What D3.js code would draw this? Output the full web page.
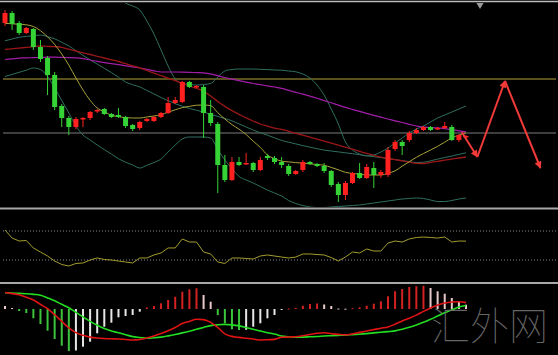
<!DOCTYPE html>
<html><head><meta charset="utf-8">
<script src="https://cdn.jsdelivr.net/npm/d3@7"></script>
<style>html,body{margin:0;padding:0;background:#000;}svg{display:block}</style>
</head><body>
<svg id="c" width="558" height="355"></svg>
<script>
// ---- candles (arbitrary price units) ----
const opens  = [185,195,185,175,179,161,150,133,102,90,81,88.5,90,96.5,99,94,93,91,83,80,87,87,91,95,105,106,126,121,121,95,84,43,28,46,44,45,38,52,50,46,42,34,38,46,44,42,37,24,13,25,35,30,40,33,33,59,66,68,75,78,81,79,80,81,68,71];
const highs  = [198,197,187,181,180,168,152,136,104,92,91,91,97,99,100,95,100,92,84,87,90,92,96,111,111,127,127,123,123,108,86,53,51,51,55,46,51,54,52,51,44,38,48,47,45,45,38,26,27,36,45,44,46,38,61,68,68,77,80,82,82,81,86,83,74,73];
const lows   = [182,178,173,174,158,146,113,98,81,73,79,81,88,95,93,90,90,80,77,78,86,86,90,94,104,105,120,120,70,82,15,26,27,42,43,36,37,48,44,40,32,33,36,43,41,35,21,6,8,24,29,29,20,30,31,57,53,66,74,77,77,78,79,67,66,70];
const closes = [195,184,175,180,161,149,133,101,90,81,89,90,96,98,94,91,91,82,79,86,89,91,95,105,108,126,121,122,95,85,43,28,46,43,45,38,48,50,46,43,34,37,46,44,42,37,23,13,25,35,30,41,33,36,58,66,62,75,78,81,78,80,82,68,73,72];
// ---- overlays ----
const maFast   = [184.7,184.2,183.7,183.2,181.5,177.3,171.2,163.6,154,142.8,130,118,107.7,100,96.2,92.8,91.4,90.3,90,90,91,92,93.3,95.8,98.2,100.4,101.6,102.8,103,102.4,95.3,89,83.4,78.8,73.5,66.8,60.6,53,49.4,46.8,46.1,45.4,44.8,44.1,43.5,42.7,40.6,38.2,35.7,34.5,33.8,33,33,33,34.8,37.1,41.8,46.3,50.7,54.5,58,61.7,65.8,70.2,72.8,75.2];
const maRed    = [158.5,159.2,159.9,160.6,161.3,162,161.6,161.3,160.6,158.8,157,155.2,153.5,151.7,150,148.2,146.5,144.3,142.2,140.1,137.5,134.9,132.4,129.8,127.3,124.7,122,119.5,116.8,112,106.6,101.6,97.4,93.7,90.1,87,84,81.9,79.8,78.6,76.7,74.7,72.8,70.8,68.9,66.9,64.9,62.8,60.8,58.8,56.7,54.6,52.7,50.9,49.6,48.4,47.1,45.9,44.7,44.5,45.6,46.7,47.8,48.9,50,51];
const maPurple = [148.5,149.2,149.9,150.1,150.4,150.6,150.8,150.8,150.6,150.4,150.1,149.4,148,146.6,145.4,144.3,143.3,142.2,141.1,140,138.6,137.2,136,136,136,135.9,135.7,135.4,135.1,134.1,132.3,130.5,128.9,127.4,125.9,124.5,123.3,122.2,121,119.6,117.7,115.7,113.8,111.8,109.7,107.4,105.2,102.9,100.6,98.6,96.6,94.7,92.7,90.8,89,87.2,85.5,83.7,82,80.8,80.5,80.1,79.3,78.3,77.2,76.1];
const bbMid    = [167.2,169,170.7,171.6,172.3,172.9,171.3,169.2,165.7,162.1,157.3,152.6,148.2,143.9,139.7,135.4,130.8,126,123.3,121.1,117.6,114.1,110.5,107.3,104.3,101.8,99.5,97.8,95.9,93.7,91.6,89.5,87.2,84.1,81,77.9,75.3,72.8,70.2,67.6,65.8,64.1,62.4,60.8,59.3,57.9,57,56.1,55.2,54.3,53.3,52.3,51.3,50.4,49.4,48.4,47.4,46.4,45.4,45.7,47.2,48.9,50.5,52,53.6,55.2];
const bbUpper  = [207,209,211,213,215,218,222,226,230,234,236,236,234,230,224,218,212,205,202,198,187,174,158,142,129,124.5,123.5,123,123.5,124.5,131,137,138.5,139,139,139,138.7,138.4,138,137.8,137,136.2,134,130,123,113,99,84,66,58,54,52,53,56,60,65,70,75,79,82,86,90,93,96,99,102];
const bbLower  = [131.5,133.6,135.7,137.8,140,138.5,131.5,120,107.5,95,82,73,68,63,58.4,54,49.3,45.8,43,40,42.7,45.5,49,56,63,69,71,71,71,70,58.5,48,39.5,31.5,28,25,21.5,18,15,12,7.5,4.5,2.5,1,0.5,0.5,1,1.5,2,2.5,3,4,5,6,7,8,9,9.5,10,9.5,8,6.5,6.5,7.5,9,10];
const levels   = [129, 75];
const arrowPts = [[64.4,76],[66.6,51],[70.5,127],[75.5,40]];
// ---- RSI ----
const rsi = [71.4,60.3,56.2,56.9,46.6,41,35.5,28.6,23.8,21.7,25.2,25.9,30,32.8,30.7,30,28.6,27.2,25.9,32.8,32.8,36.9,39.7,46.6,46.6,59,54.8,54.8,41,38.3,27.2,25.2,32.8,32.8,32.1,31.4,35.5,36.9,35.5,34.1,32.8,34.1,38.3,38.3,37.6,36.9,33.4,28.6,34.1,41,39.7,45.2,42.4,42.4,53.4,56.2,54.8,59,61,61.7,61,60.3,61.7,54.8,56.2,56];
const rsiLevels = [30, 70];
// ---- MACD ----
const macdLine   = [16.5,15.4,14.2,11.7,9,4.6,0.3,-5.7,-12.4,-18.9,-23.6,-26.3,-28.1,-29,-29.5,-29.8,-30,-30.5,-31,-30.5,-29,-27,-24.5,-21.8,-18.5,-14.6,-12.4,-10.2,-10.6,-13.4,-18.5,-24.9,-27.4,-28.4,-29.2,-30,-31,-30.7,-30.4,-28.3,-28,-27.7,-26.7,-25.5,-24.2,-23.8,-24.7,-25.4,-25.9,-24.9,-23.4,-22,-20.6,-19.2,-18,-15.2,-12,-9.2,-6.1,-2.4,1,4.1,6,7,7.3,6.4];
const signalLine = [16.2,16,15.7,15.2,14.6,13.8,11.1,8.2,4.7,1.2,-3.4,-7.9,-12.4,-16.3,-19.5,-22,-23.8,-25.7,-27.6,-28.5,-29.3,-28.8,-28.1,-26.9,-25.5,-23.9,-22.2,-20.3,-18.4,-16.6,-15.8,-15.4,-15.9,-16.9,-18.5,-20.3,-22,-23.7,-25,-27,-27.8,-28.2,-28.1,-27.8,-27.5,-27,-26.7,-26.4,-26.1,-25.6,-25.2,-24.6,-23.9,-23.2,-22.6,-21.9,-20.2,-18.2,-15.9,-13.3,-10.3,-7,-3.8,-0.9,1.9,3.5];
const macdHist   = [3,1,-2,-4,-9.3,-15,-21.7,-30,-36.7,-42,-41.5,-37.7,-32.7,-24.3,-17.7,-13.7,-8.3,-7,-6,-2.7,1.5,3,5.7,9,12.3,17.3,19.7,20.7,14,7.3,-6,-14.3,-20.3,-21,-20.8,-17.7,-14.3,-9.3,-6,-1,0.5,1,3.3,5,5.5,4.5,3,0.5,0.3,0.8,1.7,3.3,5.3,7.7,12.7,17.7,20,22,22.7,23.2,21,17.7,15.3,11,7.7,4.3];
const watermark = "汇外网";

const W = 558, H = 355;
const svg = d3.select('#c');
svg.append('rect').attr('width', W).attr('height', H).attr('fill', '#000');

const n = closes.length;
const idx = d3.range(n);
const x = d3.scaleLinear().domain([0, 65]).range([5, 466]);
const yMain = d3.scaleLinear().domain([0, 205]).range([208, 3]);
const yRsi = d3.scaleLinear().domain([0, 100]).range([281.75, 209.25]);
const yMacd = d3.scaleLinear().domain([-46, 26]).range([355, 283]);

const defs = svg.append('defs');
defs.append('clipPath').attr('id', 'clipMain').append('rect').attr('x', 2).attr('y', 3).attr('width', 554).attr('height', 204);
defs.append('clipPath').attr('id', 'clipMacd').append('rect').attr('x', 2).attr('y', 284).attr('width', 554).attr('height', 71);
defs.append('marker').attr('id', 'ah').attr('viewBox', '0 0 10 10').attr('refX', 9).attr('refY', 5)
  .attr('markerWidth', 4.2).attr('markerHeight', 3.6).attr('orient', 'auto').attr('markerUnits', 'strokeWidth')
  .append('path').attr('d', 'M0,0 L10,5 L0,10 Z').attr('fill', '#f23a3a');

// frame lines
svg.append('line').attr('x1', 0).attr('x2', W).attr('y1', 1.5).attr('y2', 1.5).attr('stroke', '#bdbdbd').attr('stroke-width', 1.5);
[208.5, 283].forEach(yy => svg.append('line').attr('x1', 0).attr('x2', W).attr('y1', yy).attr('y2', yy).attr('stroke', '#a8a8a8').attr('stroke-width', 2));

const main = svg.append('g').attr('clip-path', 'url(#clipMain)');

// level lines
const levelColors = ['#b3a23a', '#7c7c7c'];
levels.forEach((lv, k) => main.append('line').attr('x1', 3).attr('x2', 556)
  .attr('y1', yMain(lv)).attr('y2', yMain(lv)).attr('stroke', levelColors[k]).attr('stroke-width', 1));

const lineMain = arr => d3.line().x((d, i) => x(i)).y(d => yMain(d)).curve(d3.curveMonotoneX)(arr);
const overlays = [
  [bbUpper, '#2f6f60', 1], [bbLower, '#2f6f60', 1], [bbMid, '#2f6f60', 1],
  [maPurple, '#a21ea8', 1.2], [maRed, '#9a1717', 1.3], [maFast, '#a8a23a', 1]
];
overlays.forEach(([arr, col, w]) => main.append('path').attr('d', lineMain(arr))
  .attr('fill', 'none').attr('stroke', col).attr('stroke-width', w));

// candles
const upCol = '#ff2020', dnCol = '#35d335';
const cg = main.append('g');
idx.forEach(i => {
  const up = closes[i] >= opens[i];
  const col = up ? upCol : dnCol;
  cg.append('line').attr('x1', x(i)).attr('x2', x(i)).attr('y1', yMain(highs[i])).attr('y2', yMain(lows[i]))
    .attr('stroke', col).attr('stroke-width', 1);
  const top = yMain(Math.max(opens[i], closes[i])), bot = yMain(Math.min(opens[i], closes[i]));
  cg.append('rect').attr('x', x(i) - 2.5).attr('width', 5).attr('y', top).attr('height', Math.max(1.5, bot - top)).attr('fill', col);
});

// arrows
for (let k = 0; k < arrowPts.length - 1; k++) {
  const a = arrowPts[k], b = arrowPts[k + 1];
  main.append('line').attr('x1', x(a[0])).attr('y1', yMain(a[1])).attr('x2', x(b[0])).attr('y2', yMain(b[1]))
    .attr('stroke', '#f23a3a').attr('stroke-width', 2).attr('marker-end', 'url(#ah)');
}

// top marker triangle
svg.append('path').attr('d', d3.symbol().type(d3.symbolTriangle).size(22)()).attr('fill', '#9a9a9a')
  .attr('transform', 'translate(480,5) rotate(180)');

// RSI
rsiLevels.forEach(l => svg.append('line').attr('x1', 3).attr('x2', 556).attr('y1', yRsi(l)).attr('y2', yRsi(l))
  .attr('stroke', '#8a8a8a').attr('stroke-width', 1).attr('stroke-dasharray', '1,2'));
svg.append('path').attr('d', d3.line().x((d, i) => x(i)).y(d => yRsi(d))(rsi))
  .attr('fill', 'none').attr('stroke', '#a39d2e').attr('stroke-width', 1);

// MACD
const mg = svg.append('g').attr('clip-path', 'url(#clipMacd)');
idx.forEach(i => {
  const v = macdHist[i], p = i > 0 ? macdHist[i - 1] : v;
  let col;
  if (v >= 0) col = v > p ? '#d42222' : '#e8c8c8';
  else col = v < p ? '#3cc43c' : '#e6e6e6';
  const y0 = yMacd(0), y1 = yMacd(v);
  mg.append('rect').attr('x', x(i) - 1).attr('width', 2).attr('y', Math.min(y0, y1)).attr('height', Math.max(1, Math.abs(y1 - y0))).attr('fill', col);
});
const lineMacd = arr => d3.line().x((d, i) => x(i)).y(d => yMacd(d)).curve(d3.curveMonotoneX)(arr);
mg.append('path').attr('d', lineMacd(signalLine)).attr('fill', 'none').attr('stroke', '#22dd22').attr('stroke-width', 1.6);
mg.append('path').attr('d', lineMacd(macdLine)).attr('fill', 'none').attr('stroke', '#e01414').attr('stroke-width', 1.6);

// watermark
svg.append('text').attr('x', 431).attr('y', 340).text(watermark)
  .attr('font-family', '"Noto Sans CJK SC", sans-serif').attr('font-size', 39).attr('font-weight', 100)
  .attr('fill', '#7a7a7a').attr('fill-opacity', 0.85).attr('letter-spacing', 0);
</script>
</body></html>
